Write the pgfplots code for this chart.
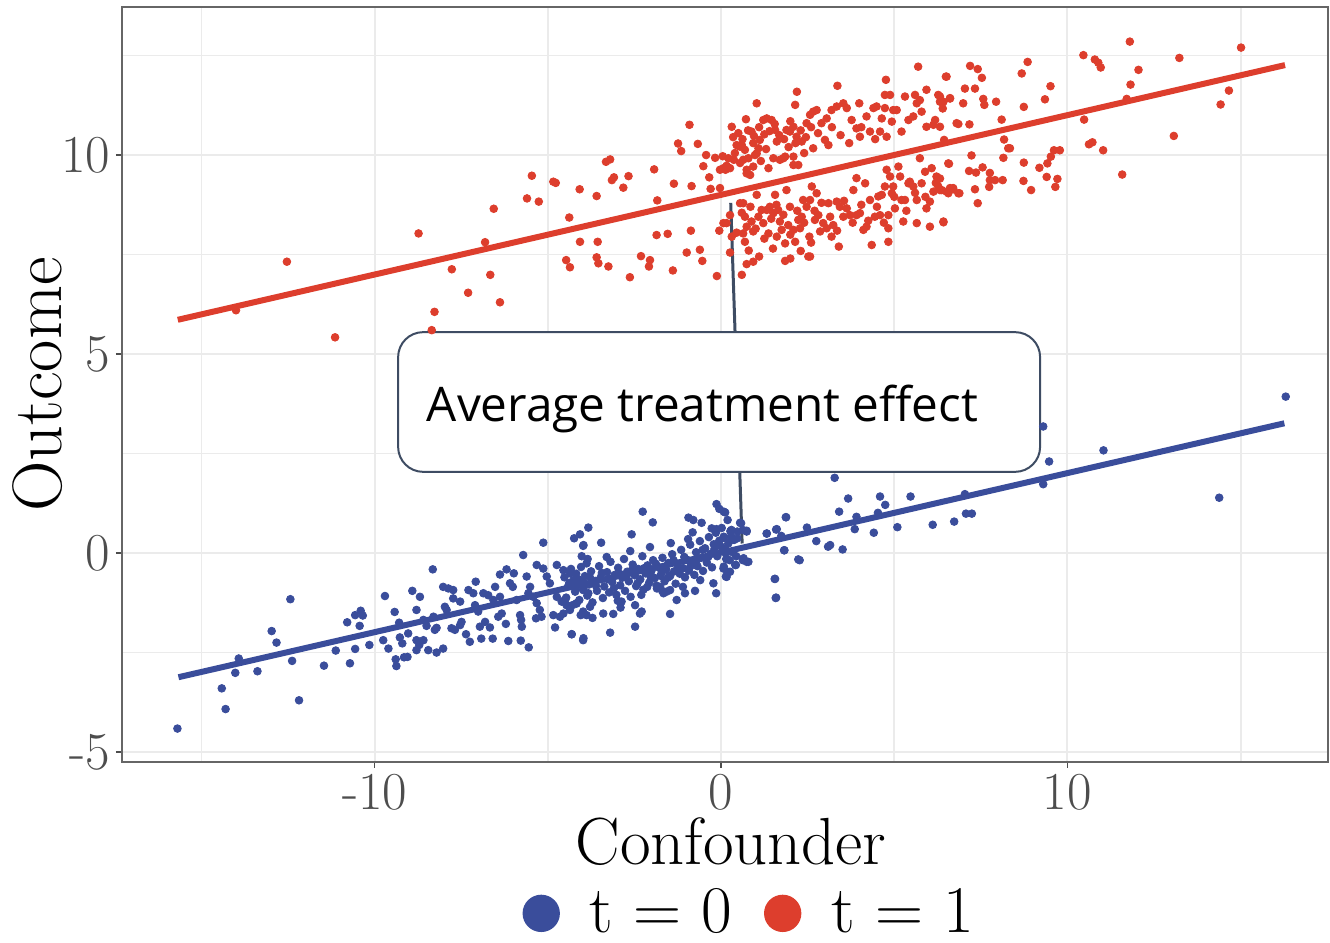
\documentclass[border=0pt]{standalone}
\usepackage{pgfplots}
\pgfplotsset{compat=1.18}
\usepackage{fontspec}
\newfontfamily\annfont{Open Sans}
\usetikzlibrary{calc}
\definecolor{cred}{RGB}{221,62,45}
\definecolor{cblue}{RGB}{58,77,155}
\definecolor{cslate}{RGB}{62,76,99}
\definecolor{cgrid}{RGB}{235,235,235}
\definecolor{ctick}{RGB}{77,77,77}

\pgfplotstableread{
x y
-12.53 7.32
-14.00 6.10
-11.14 5.42
-8.73 8.03
-6.81 7.81
-6.56 8.65
-7.77 7.13
-6.66 6.99
-7.30 6.54
-6.38 6.30
-8.27 6.06
-8.35 5.60
-5.46 9.48
-5.60 8.91
-5.26 8.83
-4.84 9.33
-4.77 9.30
-4.08 9.14
-3.59 8.97
-4.38 8.43
-4.07 7.82
-3.56 7.82
-4.47 7.36
-4.36 7.18
-3.59 7.43
-3.54 7.28
-3.32 9.83
-3.20 9.89
-3.15 9.37
-3.09 9.44
-2.82 9.18
-2.67 9.47
-1.93 9.64
-1.84 8.86
-1.36 9.28
-1.24 10.29
-1.15 10.10
-0.91 10.76
-0.85 9.22
-0.67 10.28
-0.51 9.72
-0.43 10.00
-0.34 9.44
-0.30 9.15
-0.17 9.93
-0.03 9.17
0.05 9.97
-3.25 7.20
-2.63 6.93
-2.31 7.46
-2.05 7.36
-2.08 7.20
-1.86 7.99
-1.54 8.02
-1.39 7.10
-0.99 7.55
-0.87 8.10
-0.61 7.62
-0.54 7.34
-0.12 6.96
-0.05 8.10
0.07 8.29
0.16 8.29
0.26 8.49
0.26 7.55
0.31 7.95
0.60 6.99
0.74 7.26
0.93 7.32
1.85 7.34
2.30 7.59
2.52 7.45
2.57 7.45
-0.03 9.63
0.07 9.67
0.16 9.73
0.21 9.92
0.31 10.71
0.45 10.25
0.55 10.21
0.64 9.88
0.74 9.63
0.84 9.50
0.88 10.59
0.93 10.30
1.03 10.04
1.12 10.38
1.22 10.88
1.32 10.92
1.46 10.88
1.56 10.63
1.61 10.34
1.70 9.88
1.80 9.92
1.89 10.63
1.99 10.59
2.09 10.71
2.18 10.46
2.33 10.34
2.47 10.80
2.57 11.01
2.66 11.09
2.76 11.13
2.90 10.80
3.05 10.92
3.19 11.13
3.34 11.22
3.53 11.30
3.63 11.18
3.77 10.88
3.91 10.67
4.01 10.46
4.20 10.97
4.30 10.59
4.40 11.18
4.49 11.22
4.59 10.59
4.64 10.92
4.73 11.18
4.78 10.46
4.93 10.84
4.97 11.13
5.07 11.13
5.21 10.59
5.31 11.47
5.41 10.88
5.55 10.97
5.60 11.51
5.65 11.30
5.74 11.38
5.79 11.09
5.93 11.64
5.93 10.71
6.13 10.76
6.18 10.88
6.27 11.51
6.32 11.34
6.51 11.97
6.61 11.43
6.80 10.80
5.69 12.22
4.76 11.89
4.73 11.51
4.88 11.51
3.99 11.30
3.36 11.74
2.19 11.59
2.14 11.26
1.03 11.30
0.72 10.90
0.13 9.63
0.26 9.67
0.37 9.88
0.60 10.25
0.69 10.13
0.74 9.54
0.79 9.92
0.93 9.71
0.98 10.00
1.08 10.17
1.37 9.67
1.51 9.92
1.85 9.96
2.09 9.96
2.09 9.75
2.23 9.75
2.66 10.17
0.55 8.79
0.64 8.79
0.69 8.45
0.74 8.20
0.64 8.03
0.69 7.82
0.88 8.33
0.93 8.08
1.03 9.00
1.08 8.45
1.17 8.62
1.22 8.29
1.32 8.62
1.37 8.03
1.41 8.70
1.51 8.54
1.56 9.00
1.61 7.95
1.65 8.62
1.70 8.33
1.75 8.12
1.85 7.78
1.89 9.12
1.94 8.24
1.99 8.70
2.09 8.12
2.14 7.82
2.23 8.37
2.28 8.16
2.33 8.45
2.37 8.87
2.47 8.70
2.57 8.87
2.62 9.21
2.71 8.37
2.76 9.04
2.81 8.49
2.86 8.08
2.95 8.29
3.05 8.16
3.10 8.79
3.19 7.95
3.24 8.24
3.34 8.83
3.43 8.70
3.53 8.45
3.63 8.66
3.72 8.49
3.82 9.12
3.91 9.42
3.91 8.49
4.01 8.54
4.11 8.12
4.16 9.29
4.20 8.20
4.30 8.87
4.35 7.74
4.44 8.45
4.54 8.96
4.59 8.49
4.64 9.00
4.73 9.21
4.78 9.63
4.83 8.49
4.83 8.16
4.83 7.82
4.88 9.46
4.93 9.04
4.97 9.21
5.02 8.66
5.12 9.71
5.17 9.46
5.21 8.87
5.26 8.33
5.31 8.87
5.41 9.29
5.45 9.33
5.55 9.21
5.65 8.87
5.65 8.29
5.74 9.92
5.79 9.29
5.89 9.58
5.93 8.66
6.03 8.83
6.03 8.20
6.08 9.67
6.13 9.08
6.22 9.46
6.27 9.21
6.37 9.12
6.42 8.33
6.51 9.08
6.61 9.17
6.56 9.79
6.70 9.17
6.85 9.04
6.49 11.97
6.32 11.47
6.42 11.34
6.40 11.17
6.61 11.42
6.32 10.71
6.44 10.38
7.19 12.24
7.41 12.16
7.53 11.94
7.04 11.67
7.33 11.67
6.99 11.30
6.85 10.78
7.17 10.77
7.57 11.41
7.60 11.26
7.94 11.34
8.10 10.89
8.17 10.39
8.29 10.17
8.34 10.17
8.15 9.93
7.23 9.99
6.58 9.78
6.32 9.41
6.32 9.12
6.56 9.04
6.70 9.14
6.88 9.04
7.16 9.60
7.36 9.56
7.55 9.69
7.76 9.55
7.76 9.37
7.91 9.37
8.13 9.37
7.74 9.20
7.33 9.14
7.41 8.79
6.42 8.31
8.68 12.05
8.85 12.34
8.74 11.21
8.74 9.81
8.73 9.35
8.95 9.12
9.19 9.68
9.35 11.40
9.51 11.73
9.42 9.79
9.52 9.96
9.61 10.12
9.78 10.12
9.40 9.45
9.71 9.40
9.65 9.20
10.46 12.51
10.79 12.40
10.89 12.32
10.96 12.20
10.48 10.89
10.62 10.27
10.72 10.32
11.03 10.12
11.58 9.51
11.80 12.85
12.05 12.14
11.82 11.77
11.71 11.41
13.23 12.44
13.07 10.48
14.42 11.27
14.66 11.62
15.01 12.70
0.35 10.45
0.50 10.55
0.62 10.40
0.78 10.62
0.95 10.48
1.10 10.70
1.25 10.52
1.40 10.60
1.55 10.78
1.68 10.50
1.82 10.40
2.00 10.85
2.15 10.30
2.30 10.62
2.45 10.45
2.60 10.70
2.80 10.55
3.00 10.38
3.20 10.70
3.45 10.50
0.40 10.05
0.55 9.80
1.15 9.85
1.30 10.15
1.95 10.20
2.40 10.05
3.10 10.25
3.70 10.30
4.05 10.70
4.45 10.40
0.45 8.05
0.60 8.55
0.85 8.70
1.00 8.15
1.25 7.90
1.45 8.40
1.60 8.75
1.80 8.50
2.00 8.00
2.20 8.60
2.40 8.30
2.55 7.95
2.70 8.60
2.90 8.80
3.15 8.45
3.35 8.10
3.55 8.85
3.80 8.30
4.05 8.75
4.25 8.35
4.50 8.70
4.70 8.30
5.00 8.95
5.35 8.60
5.60 9.05
5.90 8.95
6.20 9.30
0.80 7.60
1.10 7.45
1.50 7.65
2.00 7.40
2.60 7.80
3.40 7.70
}\redpts

\pgfplotstableread{
x y
-15.69 -4.41
-14.41 -3.40
-14.30 -3.92
-14.02 -3.01
-13.92 -2.65
-13.38 -2.97
-12.97 -1.96
-12.83 -2.25
-12.43 -1.16
-12.38 -2.71
-12.18 -3.70
-11.46 -2.83
-11.12 -2.45
-10.71 -2.77
-10.79 -1.74
-10.56 -1.56
-10.40 -1.45
-10.34 -1.57
-10.43 -1.83
-10.56 -2.41
-10.15 -2.31
-9.70 -1.08
-9.42 -1.48
-9.29 -1.75
-9.75 -2.19
-9.60 -2.40
-9.27 -2.12
-9.20 -2.27
-9.03 -2.02
-9.39 -2.67
-9.37 -2.84
-9.15 -2.62
-9.05 -2.61
-8.91 -0.95
-8.69 -1.10
-8.79 -1.43
-8.59 -1.68
-8.50 -1.83
-8.79 -2.19
-8.71 -2.31
-8.79 -2.44
-8.59 -2.19
-8.45 -2.44
-8.21 -2.50
-8.02 -2.40
-8.32 -0.41
-8.30 -1.60
-8.21 -1.88
-8.26 -1.93
-8.02 -0.85
-7.87 -0.89
-7.73 -0.93
-7.97 -1.35
-7.92 -1.43
-7.73 -1.14
-7.53 -1.22
-7.78 -1.89
-7.68 -1.93
-7.53 -1.81
-7.49 -1.73
-7.36 -2.04
-7.25 -2.23
-7.29 -0.93
-7.15 -1.01
-7.08 -0.72
-7.10 -1.31
-7.01 -1.47
-6.96 -1.85
-6.81 -1.73
-6.92 -2.15
-6.59 -2.15
-6.67 -1.87
-6.86 -1.01
-6.72 -1.06
-6.57 -1.18
-6.52 -0.85
-6.38 -1.10
-6.38 -0.54
-6.19 -0.41
-5.98 -0.51
-6.43 -1.60
-6.33 -1.52
-6.21 -1.78
-6.14 -2.21
-5.78 -2.20
-5.55 -2.37
-6.09 -0.76
-6.01 -0.85
-5.90 -1.18
-5.80 -1.56
-5.75 -1.85
-5.77 -1.68
-5.71 -0.05
-5.61 -0.59
-5.51 -0.85
-5.56 -1.01
-5.42 -1.10
-5.32 -1.26
-5.23 -1.43
-5.34 -1.64
-5.18 -1.60
-5.32 -0.30
-5.13 -0.39
-5.03 -0.59
-4.94 -0.76
-5.13 0.26
-4.79 -1.87
-4.84 -1.56
-4.65 -1.60
-4.74 -1.10
-4.60 -1.22
-4.46 -1.31
-4.74 -0.30
-4.55 -0.43
-4.36 -0.51
-4.26 -0.68
-4.31 -2.04
-3.98 -2.19
-4.36 -1.43
-4.17 -1.26
-3.98 -1.47
-3.88 -1.56
-3.98 0.18
-4.02 -0.08
-3.88 -0.26
-4.17 -0.85
-3.98 -0.93
-3.83 -1.01
-2.26 1.04
-1.97 0.77
-2.58 0.47
-3.83 0.64
-4.24 0.37
-4.07 0.47
-3.97 0.20
-3.46 0.26
-0.13 1.23
-0.05 1.11
0.12 1.02
-0.94 0.89
-0.80 0.83
-0.56 0.76
-0.82 0.52
-0.27 0.62
-0.13 0.60
0.55 0.76
0.74 0.56
1.32 0.49
1.59 0.59
1.88 0.90
1.82 0.07
2.23 -0.16
1.56 -0.65
1.59 -1.12
0.79 -0.22
0.65 -0.13
0.43 -0.30
0.16 -0.60
0.26 -0.47
0.07 -0.39
-0.14 -1.01
-0.22 -0.76
-0.75 -0.95
-1.47 -1.53
-2.48 -1.85
-2.34 -1.52
-2.29 -1.47
-3.20 -2.00
-4.31 -2.04
-3.97 -2.14
-3.71 -1.63
-3.78 -1.35
-4.05 -1.56
-4.17 -1.27
-3.40 -1.52
-3.11 -1.53
-2.90 -1.37
-2.87 -1.22
-2.48 -1.31
-2.13 -0.85
-1.86 -0.82
-1.76 -0.85
-1.66 -1.01
-1.57 -0.97
-1.47 -0.93
-1.28 -1.18
-1.04 -1.01
-4.50 -1.18
-4.55 -1.52
16.30 3.93
14.38 1.39
11.04 2.58
9.30 3.18
9.47 2.30
9.30 1.73
3.28 1.89
3.67 1.37
4.59 1.42
4.74 1.21
5.47 1.42
3.41 1.04
3.91 0.91
3.86 0.60
4.53 1.01
4.41 0.51
5.09 0.65
6.11 0.71
6.73 0.79
7.07 0.99
7.24 0.99
7.04 1.48
1.87 0.90
1.61 0.60
1.32 0.49
1.74 0.43
2.48 0.64
2.75 0.30
3.09 0.16
3.15 0.20
3.51 0.09
1.83 0.07
2.27 -0.18
1.55 -0.65
1.58 -1.13
0.08 1.04
0.19 0.83
0.30 0.58
0.47 0.54
0.63 0.58
0.74 0.54
0.58 0.75
0.08 0.41
0.30 0.33
0.47 0.37
0.14 -0.01
0.25 -0.18
0.41 -0.30
0.63 -0.18
0.74 -0.22
0.08 -0.34
0.19 -0.47
0.14 -0.59
-4.52 -0.61
-4.47 -1.12
-4.41 -0.83
-4.33 -0.40
-4.29 -1.31
-4.21 -0.97
-4.13 -0.66
-4.09 -1.18
-4.04 -0.35
-3.97 -0.88
-3.93 -0.58
-3.86 -1.07
-3.81 -0.79
-3.75 -0.46
-3.71 -1.24
-3.63 -0.70
-3.58 -0.95
-3.52 -0.33
-3.47 -0.61
-3.41 -1.13
-3.37 -0.84
-3.29 -0.48
-3.23 -0.99
-3.19 -0.22
-3.14 -0.73
-3.07 -0.55
-3.02 -1.05
-2.97 -0.37
-2.91 -0.81
-2.85 -0.62
-2.80 -0.15
-2.77 -0.95
-2.71 -0.47
-2.66 -0.71
-2.61 -1.10
-2.55 -0.29
-2.49 -0.56
-2.45 -0.83
-2.39 -0.40
-2.33 -0.66
-2.27 -0.08
-2.24 -0.92
-2.18 -0.51
-2.12 -0.31
-2.07 -0.74
-2.01 -0.45
-1.96 -0.18
-1.91 -0.63
-1.85 -0.89
-1.79 -0.36
-1.75 -0.57
-1.69 -0.12
-1.63 -0.71
-1.58 -0.42
-1.52 -0.25
-1.47 -0.58
-1.41 -0.03
-1.35 -0.46
-1.31 -0.77
-1.26 -0.30
-1.19 -0.52
-1.15 0.08
-1.09 -0.38
-1.04 -0.61
-0.98 -0.17
-0.93 -0.44
-0.89 0.21
-0.83 -0.26
-0.77 -0.55
-0.72 0.02
-0.68 -0.33
-0.61 0.30
-0.57 -0.12
-0.52 -0.45
-0.46 0.12
-0.41 -0.24
-0.35 0.40
-0.31 -0.02
-0.26 -0.36
-0.21 0.22
-0.15 0.51
-0.11 -0.08
-0.05 0.31
0.02 0.63
0.04 0.05
0.09 0.38
0.15 -0.15
0.21 0.24
0.27 0.55
0.33 0.02
0.38 0.33
0.44 -0.08
-4.38 -0.75
-4.18 -0.52
-3.99 -0.70
-3.79 -0.60
-3.61 -0.82
-3.44 -0.50
-3.26 -0.66
-3.09 -0.88
-2.93 -0.52
-2.74 -0.60
-2.58 -0.44
-2.41 -0.76
-2.22 -0.38
-2.04 -0.58
-1.88 -0.27
-1.71 -0.47
-1.54 -0.62
-1.37 -0.18
-1.21 -0.40
-1.06 -0.10
-0.88 -0.33
-0.70 -0.18
-0.53 0.08
-0.37 -0.10
-0.19 0.10
-0.02 0.18
0.12 0.12
0.29 0.42
-3.30 -0.10
-2.62 0.05
-2.05 0.15
-1.45 0.25
-0.95 0.35
-3.85 -0.15
-2.98 -1.20
-2.30 -1.05
-1.70 -0.95
-1.10 -0.85
-0.60 -0.68
}\bluepts

\begin{document}
\begin{tikzpicture}
\begin{axis}[
  scale only axis, width=361.8pt, height=226.5pt,
  xmin=-17.29, xmax=17.52, ymin=-5.25, ymax=13.72,
  xtick={-10,0,10}, xticklabels={-10,0,10},
  ytick={-5,0,5,10}, yticklabels={-5,0,5,10},
  minor xtick={-15,-5,5,15}, minor ytick={-2.5,2.5,7.5,12.5},
  grid=both,
  major grid style={cgrid, line width=0.6pt},
  minor grid style={cgrid, line width=0.5pt},
  xtick pos=bottom, ytick pos=left,
  tick align=outside, major tick length=1.8pt, minor tick length=0pt,
  tick style={ctick, line width=0.5pt},
  axis line style={black!60, line width=0.5pt},
  ticklabel style={font=\fontsize{16}{19}\selectfont, text=ctick, inner sep=3pt},
  yticklabel style={xshift=1.5pt},
  xticklabel style={yshift=1.2pt},
  xlabel={Confounder}, ylabel={Outcome},
  xlabel style={font=\fontsize{20}{24}\selectfont, at={(axis description cs:0.505,-0.106)}, anchor=center},
  ylabel style={font=\fontsize{21}{25}\selectfont, at={(axis description cs:-0.0697,0.5)}, anchor=center},
  legend style={at={(axis description cs:0.522,-0.2005)}, anchor=center, draw=none, fill=none,
    font=\fontsize{20}{24}\selectfont, nodes={inner ysep=0.5pt},
    /tikz/every odd column/.append style={column sep=7pt},
    /tikz/every even column/.append style={column sep=7.5pt}},
  legend columns=2, legend cell align=left,
]
\addplot[cblue, only marks, mark=*, mark size=1.15pt, mark options={line width=0.25pt, fill=cblue, draw=cblue}, forget plot] table[x=x, y=y] {\bluepts};
\addplot[cred, only marks, mark=*, mark size=1.15pt, mark options={line width=0.25pt, fill=cred, draw=cred}, forget plot] table[x=x, y=y] {\redpts};
\addplot[cred, line width=1.8pt, forget plot] coordinates {(-15.68,5.86) (16.28,12.26)};
\addplot[cblue, line width=1.8pt, forget plot] coordinates {(-15.66,-3.12) (16.26,3.26)};
\addplot[cslate, line width=0.9pt, forget plot] coordinates {(0.28,8.80) (0.61,0.24)};
\draw[draw=cslate, line width=0.6pt, fill=white, rounded corners=7.5pt] (axis cs:-9.32,2.04) rectangle (axis cs:9.21,5.55);
\node[anchor=base west, inner sep=0pt, font=\annfont\fontsize{14.3}{17}\selectfont] at (axis cs:-8.51,3.30) {Average treatment effect};
\addlegendimage{legend image code/.code={\fill[cblue] (0pt,0pt) circle (5.4pt);}}
\addlegendentry{t = 0}
\addlegendimage{legend image code/.code={\fill[cred] (0pt,0pt) circle (5.4pt);}}
\addlegendentry{t = 1}
\end{axis}
\pgfresetboundingbox
\path[use as bounding box] ($(current axis.south west)+(-36.6pt,-54.3pt)$) rectangle ($(current axis.north east)+(0.6pt,2.1pt)$);
\end{tikzpicture}
\end{document}
